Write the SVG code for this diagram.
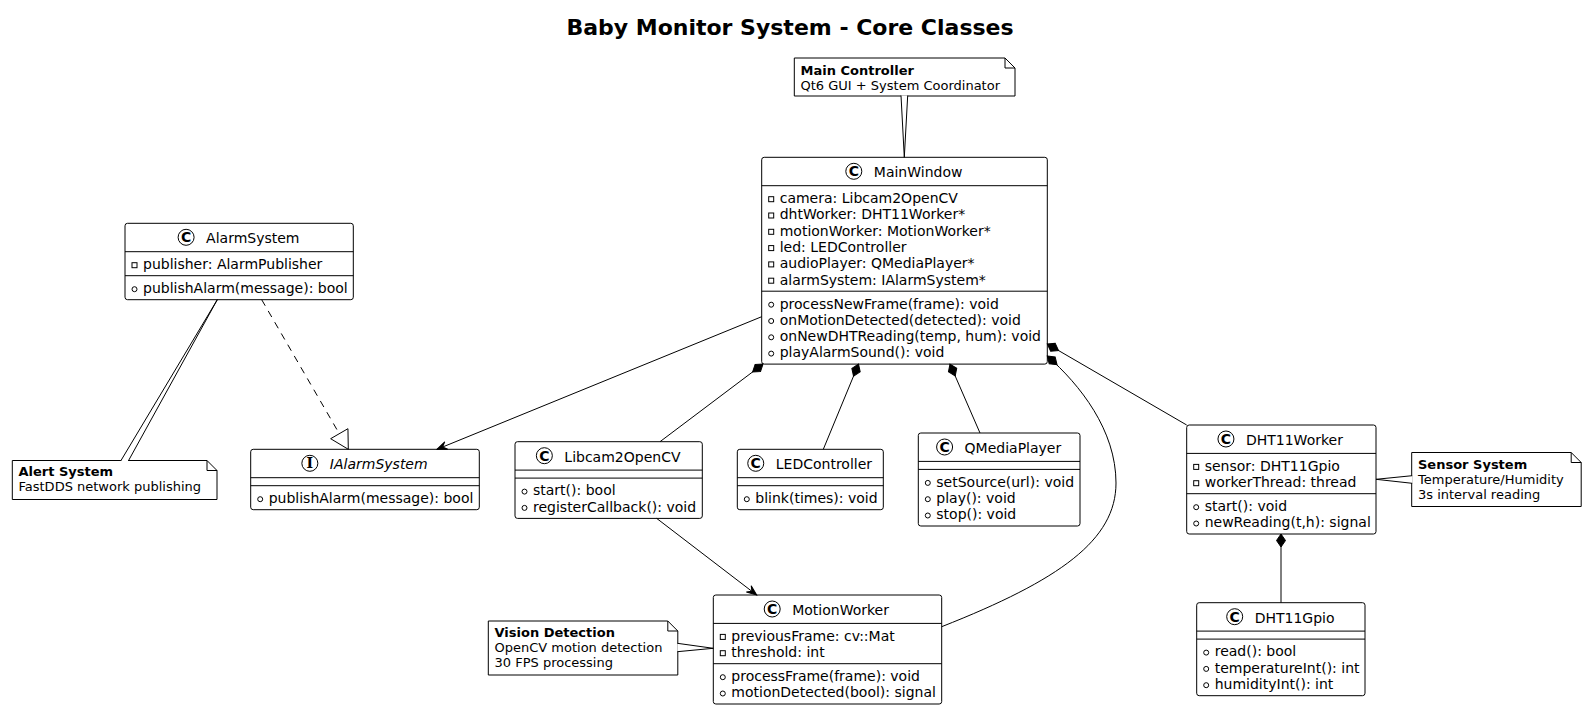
<svg xmlns="http://www.w3.org/2000/svg" width="1586" height="709" viewBox="0 0 1586 709">
<defs>
<style>
text{font-family:"DejaVu Sans","Liberation Sans",sans-serif;fill:#000}
.box{fill:#fff;stroke:#000;stroke-width:1}
.sep{stroke:#000;stroke-width:1}
.nm{font-size:14px}
.it{font-style:italic}
.m{font-size:14px}
.ci{fill:#fff;stroke:#000;stroke-width:1}
.cl{font-size:14px;font-weight:bold;text-anchor:middle}
.ii{font-family:"DejaVu Serif","Liberation Serif",serif;font-size:14px;font-weight:bold;text-anchor:middle}
.pv{fill:none;stroke:#000;stroke-width:1}
.note{fill:#fff;stroke:#000;stroke-width:1}
.nt{font-size:13px}
.b{font-weight:bold}
.ln{fill:none;stroke:#000;stroke-width:1}
.dash{stroke-dasharray:7,6}
.wedge{fill:#fff;stroke:#000;stroke-width:1}
.title{font-size:22px;font-weight:bold;text-anchor:middle}
</style>
<marker id="arrow" markerUnits="userSpaceOnUse" viewBox="-11 -5 12 10" refX="0" refY="0" markerWidth="12" markerHeight="10" orient="auto"><path d="M0,0 L-10,-4 L-6,0 L-10,4 Z" fill="#000" stroke="#000" stroke-width="1"/></marker>
<marker id="diamond" markerUnits="userSpaceOnUse" viewBox="-1 -6 15 12" refX="0" refY="0" markerWidth="15" markerHeight="12" orient="auto"><path d="M0,0 L6.5,-4.5 L13,0 L6.5,4.5 Z" fill="#000" stroke="#000" stroke-width="1"/></marker>
</defs>
<rect x="0" y="0" width="1586" height="709" fill="#fff"/>
<text class="title" x="790" y="35">Baby Monitor System - Core Classes</text>

<g id="note-main">
<path class="note" d="M794.3,58 L1005,58 L1015,68 L1015,96 L794.3,96 Z"/>
<path class="ln" d="M1005,58 L1005,68 L1015,68"/>
<text class="nt b" x="800.5" y="74.8">Main Controller</text>
<text class="nt" x="800.5" y="89.5">Qt6 GUI + System Coordinator</text>
</g>

<g id="note-alert">
<path class="note" d="M12.3,460.5 L207,460.5 L217,470.5 L217,499.5 L12.3,499.5 Z"/>
<path class="ln" d="M207,460.5 L207,470.5 L217,470.5"/>
<text class="nt b" x="18.5" y="476">Alert System</text>
<text class="nt" x="18.5" y="491">FastDDS network publishing</text>
</g>

<g id="note-vision">
<path class="note" d="M488.3,621 L667.8,621 L677.8,631 L677.8,675 L488.3,675 Z"/>
<path class="ln" d="M667.8,621 L667.8,631 L677.8,631"/>
<text class="nt b" x="494.5" y="637">Vision Detection</text>
<text class="nt" x="494.5" y="652">OpenCV motion detection</text>
<text class="nt" x="494.5" y="667">30 FPS processing</text>
</g>

<g id="note-sensor">
<path class="note" d="M1411.7,452.5 L1571.2,452.5 L1581.2,462.5 L1581.2,506.5 L1411.7,506.5 Z"/>
<path class="ln" d="M1571.2,452.5 L1571.2,462.5 L1581.2,462.5"/>
<text class="nt b" x="1418" y="468.5">Sensor System</text>
<text class="nt" x="1418" y="483.5">Temperature/Humidity</text>
<text class="nt" x="1418" y="498.5">3s interval reading</text>
</g>

<g id="MainWindow">
<rect class="box" x="761.7" y="157.3" width="285.6" height="206.8" rx="2.5"/>
<circle class="ci" cx="853.8" cy="171.3" r="8"/>
<text class="cl" x="853.8" y="176.4">C</text>
<text class="nm" x="873.8" y="177.3">MainWindow</text>
<line class="sep" x1="761.7" y1="185.7" x2="1047.3" y2="185.7"/>
<rect class="pv" x="768.7" y="196.7" width="5" height="5"/><text class="m" x="779.7" y="203">camera: Libcam2OpenCV</text>
<rect class="pv" x="768.7" y="213" width="5" height="5"/><text class="m" x="779.7" y="219.3">dhtWorker: DHT11Worker*</text>
<rect class="pv" x="768.7" y="229.3" width="5" height="5"/><text class="m" x="779.7" y="235.6">motionWorker: MotionWorker*</text>
<rect class="pv" x="768.7" y="245.6" width="5" height="5"/><text class="m" x="779.7" y="251.9">led: LEDController</text>
<rect class="pv" x="768.7" y="261.9" width="5" height="5"/><text class="m" x="779.7" y="268.2">audioPlayer: QMediaPlayer*</text>
<rect class="pv" x="768.7" y="278.2" width="5" height="5"/><text class="m" x="779.7" y="284.5">alarmSystem: IAlarmSystem*</text>
<line class="sep" x1="761.7" y1="291.2" x2="1047.3" y2="291.2"/>
<circle class="pv" cx="771.2" cy="304.7" r="2.5"/><text class="m" x="779.7" y="308.5">processNewFrame(frame): void</text>
<circle class="pv" cx="771.2" cy="321" r="2.5"/><text class="m" x="779.7" y="324.8">onMotionDetected(detected): void</text>
<circle class="pv" cx="771.2" cy="337.3" r="2.5"/><text class="m" x="779.7" y="341.1">onNewDHTReading(temp, hum): void</text>
<circle class="pv" cx="771.2" cy="353.6" r="2.5"/><text class="m" x="779.7" y="357.4">playAlarmSound(): void</text>
</g>

<g id="AlarmSystem">
<rect class="box" x="125" y="223.3" width="228.3" height="76.4" rx="2.5"/>
<circle class="ci" cx="186.1" cy="237.3" r="8"/>
<text class="cl" x="186.1" y="242.4">C</text>
<text class="nm" x="206.1" y="243.3">AlarmSystem</text>
<line class="sep" x1="125" y1="251.7" x2="353.3" y2="251.7"/>
<rect class="pv" x="132" y="262.7" width="5" height="5"/><text class="m" x="143" y="269">publisher: AlarmPublisher</text>
<line class="sep" x1="125" y1="275.7" x2="353.3" y2="275.7"/>
<circle class="pv" cx="134.5" cy="289.2" r="2.5"/><text class="m" x="143" y="293">publishAlarm(message): bool</text>
</g>

<g id="IAlarmSystem">
<rect class="box" x="250.7" y="449.3" width="228.6" height="60.4" rx="2.5"/>
<circle class="ci" cx="309.85" cy="463.3" r="8"/>
<text class="ii" x="309.85" y="468.3">I</text>
<text class="nm it" x="329.85" y="469.3">IAlarmSystem</text>
<line class="sep" x1="250.7" y1="477.7" x2="479.3" y2="477.7"/>
<line class="sep" x1="250.7" y1="485.7" x2="479.3" y2="485.7"/>
<circle class="pv" cx="260.2" cy="499.2" r="2.5"/><text class="m" x="268.7" y="503">publishAlarm(message): bool</text>
</g>

<g id="Libcam2OpenCV">
<rect class="box" x="515" y="441.7" width="187.3" height="76.7" rx="2.5"/>
<circle class="ci" cx="544.35" cy="455.7" r="8"/>
<text class="cl" x="544.35" y="460.8">C</text>
<text class="nm" x="564.35" y="461.7">Libcam2OpenCV</text>
<line class="sep" x1="515" y1="470.1" x2="702.3" y2="470.1"/>
<line class="sep" x1="515" y1="478.1" x2="702.3" y2="478.1"/>
<circle class="pv" cx="524.5" cy="491.6" r="2.5"/><text class="m" x="533" y="495.4">start(): bool</text>
<circle class="pv" cx="524.5" cy="507.9" r="2.5"/><text class="m" x="533" y="511.7">registerCallback(): void</text>
</g>

<g id="LEDController">
<rect class="box" x="737.3" y="449.3" width="146" height="60.4" rx="2.5"/>
<circle class="ci" cx="755.75" cy="463.3" r="8"/>
<text class="cl" x="755.75" y="468.4">C</text>
<text class="nm" x="775.75" y="469.3">LEDController</text>
<line class="sep" x1="737.3" y1="477.7" x2="883.3" y2="477.7"/>
<line class="sep" x1="737.3" y1="485.7" x2="883.3" y2="485.7"/>
<circle class="pv" cx="746.8" cy="499.2" r="2.5"/><text class="m" x="755.3" y="503">blink(times): void</text>
</g>

<g id="QMediaPlayer">
<rect class="box" x="918.3" y="433" width="161.7" height="93" rx="2.5"/>
<circle class="ci" cx="944.6" cy="447" r="8"/>
<text class="cl" x="944.6" y="452.1">C</text>
<text class="nm" x="964.6" y="453">QMediaPlayer</text>
<line class="sep" x1="918.3" y1="461.4" x2="1080" y2="461.4"/>
<line class="sep" x1="918.3" y1="469.4" x2="1080" y2="469.4"/>
<circle class="pv" cx="927.8" cy="482.9" r="2.5"/><text class="m" x="936.3" y="486.7">setSource(url): void</text>
<circle class="pv" cx="927.8" cy="499.2" r="2.5"/><text class="m" x="936.3" y="503">play(): void</text>
<circle class="pv" cx="927.8" cy="515.5" r="2.5"/><text class="m" x="936.3" y="519.3">stop(): void</text>
</g>

<g id="MotionWorker">
<rect class="box" x="713.3" y="595" width="228.4" height="109" rx="2.5"/>
<circle class="ci" cx="772.2" cy="609" r="8"/>
<text class="cl" x="772.2" y="614.1">C</text>
<text class="nm" x="792.2" y="615">MotionWorker</text>
<line class="sep" x1="713.3" y1="623.4" x2="941.7" y2="623.4"/>
<rect class="pv" x="720.3" y="634.4" width="5" height="5"/><text class="m" x="731.3" y="640.7">previousFrame: cv::Mat</text>
<rect class="pv" x="720.3" y="650.7" width="5" height="5"/><text class="m" x="731.3" y="657">threshold: int</text>
<line class="sep" x1="713.3" y1="663.7" x2="941.7" y2="663.7"/>
<circle class="pv" cx="722.8" cy="677.2" r="2.5"/><text class="m" x="731.3" y="681">processFrame(frame): void</text>
<circle class="pv" cx="722.8" cy="693.5" r="2.5"/><text class="m" x="731.3" y="697.3">motionDetected(bool): signal</text>
</g>

<g id="DHT11Worker">
<rect class="box" x="1186.7" y="425" width="189.3" height="109" rx="2.5"/>
<circle class="ci" cx="1225.95" cy="439" r="8"/>
<text class="cl" x="1225.95" y="444.1">C</text>
<text class="nm" x="1245.95" y="445">DHT11Worker</text>
<line class="sep" x1="1186.7" y1="453.4" x2="1376" y2="453.4"/>
<rect class="pv" x="1193.7" y="464.4" width="5" height="5"/><text class="m" x="1204.7" y="470.7">sensor: DHT11Gpio</text>
<rect class="pv" x="1193.7" y="480.7" width="5" height="5"/><text class="m" x="1204.7" y="487">workerThread: thread</text>
<line class="sep" x1="1186.7" y1="493.7" x2="1376" y2="493.7"/>
<circle class="pv" cx="1196.2" cy="507.2" r="2.5"/><text class="m" x="1204.7" y="511">start(): void</text>
<circle class="pv" cx="1196.2" cy="523.5" r="2.5"/><text class="m" x="1204.7" y="527.3">newReading(t,h): signal</text>
</g>

<g id="DHT11Gpio">
<rect class="box" x="1196.7" y="602.7" width="168.3" height="93" rx="2.5"/>
<circle class="ci" cx="1234.7" cy="616.7" r="8"/>
<text class="cl" x="1234.7" y="621.8">C</text>
<text class="nm" x="1254.7" y="622.7">DHT11Gpio</text>
<line class="sep" x1="1196.7" y1="631.1" x2="1365" y2="631.1"/>
<line class="sep" x1="1196.7" y1="639.1" x2="1365" y2="639.1"/>
<circle class="pv" cx="1206.2" cy="652.6" r="2.5"/><text class="m" x="1214.7" y="656.4">read(): bool</text>
<circle class="pv" cx="1206.2" cy="668.9" r="2.5"/><text class="m" x="1214.7" y="672.7">temperatureInt(): int</text>
<circle class="pv" cx="1206.2" cy="685.2" r="2.5"/><text class="m" x="1214.7" y="689">humidityInt(): int</text>
</g>

<g id="connectors">
<path class="wedge" d="M901,95.5 L904.3,157.3 L907.7,95.5"/>
<path class="wedge" d="M120.7,461 L217.3,299.7 L128.3,461"/>
<path class="wedge" d="M677.3,643.3 L713.3,648.3 L677.3,651.7"/>
<path class="wedge" d="M1412.2,475.7 L1376,479.3 L1412.2,483.3"/>
<path class="ln dash" d="M261.7,299.7 L339.3,433.7"/>
<path class="ln" d="M348.3,449.3 L347.95,428.7 L330.65,438.7 Z" fill="#fff"/>
<path class="ln" d="M761.7,316.7 L437,449.3" marker-end="url(#arrow)"/>
<path class="ln" d="M656.7,518.4 L756.7,595" marker-end="url(#arrow)"/>
<path class="ln" d="M763,364.1 L660,441.7" marker-start="url(#diamond)"/>
<path class="ln" d="M858.5,364.1 L823.3,449.3" marker-start="url(#diamond)"/>
<path class="ln" d="M950,364.1 L980,433" marker-start="url(#diamond)"/>
<path class="ln" d="M1047.3,356 C1080,385 1116,430 1116,483 C1116,540 1060,580 941.7,626.7" marker-start="url(#diamond)"/>
<path class="ln" d="M1047.3,344 L1186.7,425" marker-start="url(#diamond)"/>
<path class="ln" d="M1281,534 L1281,602.7" marker-start="url(#diamond)"/>
</g>
</svg>
